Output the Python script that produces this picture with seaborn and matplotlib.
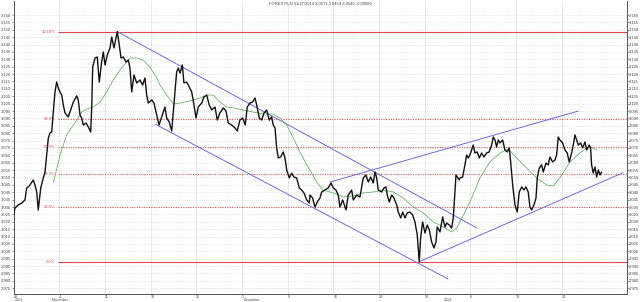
import numpy as np
import pandas as pd
import matplotlib
matplotlib.use("Agg")
import matplotlib.pyplot as plt
import seaborn as sns
from matplotlib.transforms import blended_transform_factory

# ---- data (x = trading-session index, 0 = Mon 28 Oct 2013) ----
session = [0.0, 0.15, 0.51, 0.89, 1.25, 1.43, 1.61, 1.87, 2.16, 2.34, 2.53, 2.70, 2.97, 3.25, 3.44,
           3.62, 3.80, 3.98, 4.17, 4.35, 4.53, 4.72, 4.89, 5.08, 5.27, 5.44, 5.63, 5.99, 6.17, 6.54,
           6.91, 7.08, 7.27, 7.45, 7.63, 7.93, 8.18, 8.44, 8.55, 8.66, 8.91, 9.16, 9.38, 9.64, 9.82,
           10.01, 10.26, 10.55, 10.74, 10.99, 11.21, 11.35, 11.57, 11.76, 12.01, 12.30, 12.56, 12.74,
           12.93, 13.18, 13.48, 13.84, 14.13, 14.38, 14.57, 14.75, 15.12, 15.37, 15.67, 15.92,
           16.03, 16.57, 16.76, 17.04, 17.31, 17.48, 17.67, 17.85, 18.03, 18.22, 18.47, 18.65, 18.95,
           19.23, 19.50, 19.75, 19.97, 20.22, 20.59, 20.84, 21.14, 21.42, 21.69, 22.05, 22.30, 22.59,
           22.96, 23.25, 23.50, 23.88, 24.24, 24.49, 24.78, 25.08, 25.36, 25.58, 25.88, 26.17, 26.43,
           26.61, 26.90, 27.16, 27.41, 27.71, 27.99, 28.25, 28.43, 28.62, 28.80, 28.98, 29.24, 29.52,
           29.71, 29.90, 30.18, 30.44, 30.69, 30.99, 31.28, 31.54, 31.79, 32.09, 32.37,
           32.45, 32.74, 32.99, 33.25, 33.54, 33.73, 34.09, 34.45, 34.75, 35.00, 35.29, 35.54, 35.73,
           36.03, 36.39, 36.64, 37.01, 37.19, 37.56, 37.92, 38.11, 38.28, 38.58, 38.83, 39.09, 39.38,
           39.56, 39.75, 39.92, 40.30, 40.55, 40.77, 40.91, 41.13, 41.39, 41.64, 41.94, 42.11, 42.38,
           42.60, 42.85, 43.10, 43.39, 43.69, 43.94, 44.19, 44.41, 44.56, 44.78, 45.04, 45.29, 45.51,
           45.77, 46.02, 46.24, 46.38, 46.68, 46.97, 47.23, 47.41, 47.70, 47.96, 48.13, 48.32, 48.43,
           48.57, 48.79,
           48.87, 49.16, 49.41, 49.60, 49.78, 50.04, 50.32, 50.51, 50.76, 50.98, 51.24, 51.49, 51.79,
           52.07, 52.34, 52.51, 52.70, 52.88, 53.06, 53.25, 53.54, 53.79, 54.05, 54.26, 54.42, 54.64,
           54.89, 55.14, 55.36, 55.62, 55.87, 56.09, 56.34, 56.53, 56.72, 56.97, 57.19, 57.33, 57.55,
           57.81, 57.99, 58.28, 58.53, 58.72, 59.01, 59.26, 59.45, 59.63, 59.81, 60.11, 60.36, 60.61,
           60.83, 61.09, 61.27, 61.46, 61.64, 61.82, 62.08, 62.30, 62.55, 62.74, 63.02, 63.17, 63.28,
           63.46, 63.65, 63.83, 64.01, 64.20, 64.38]
close = [3.0246, 3.0293, 3.0314, 3.0327, 3.0348, 3.0429, 3.0436, 3.0456, 3.0483, 3.0449, 3.0402, 3.0280,
         3.0429, 3.0497, 3.0537, 3.0652, 3.0767, 3.0801, 3.0808, 3.0943, 3.1079, 3.1146, 3.1106, 3.1079,
         3.1058, 3.0991, 3.0937, 3.0910, 3.0943, 3.1011, 3.1052, 3.1025, 3.0923, 3.0903, 3.0855, 3.0869,
         3.0842, 3.0808, 3.0971, 3.1248, 3.1309, 3.1316, 3.1146, 3.1282, 3.1350, 3.1262, 3.1329, 3.1377,
         3.1451, 3.1377, 3.1444, 3.1488, 3.1397, 3.1309, 3.1316, 3.1282, 3.1295, 3.1241, 3.1079, 3.1194,
         3.1140, 3.1160, 3.1126, 3.1174, 3.1058, 3.1004, 3.1025, 3.1004, 3.0923, 3.0855,
         3.0876, 3.0977, 3.0903, 3.0876, 3.0815, 3.0943, 3.1079, 3.1214, 3.1241, 3.1207, 3.1262, 3.1140,
         3.1146, 3.1113, 3.1079, 3.0991, 3.0903, 3.0977, 3.1004, 3.1045, 3.1058, 3.0991, 3.0957, 3.0977,
         3.0889, 3.0937, 3.0971, 3.0950, 3.0869, 3.0855, 3.0835, 3.0815, 3.0889, 3.0903, 3.0855, 3.0977,
         3.1004, 3.1011, 3.1038, 3.0991, 3.0903, 3.0889, 3.0937, 3.0957, 3.0889, 3.0910, 3.0855, 3.0835,
         3.0700, 3.0632, 3.0639, 3.0673, 3.0632, 3.0551, 3.0497, 3.0530, 3.0503, 3.0497, 3.0429, 3.0415,
         3.0395, 3.0348, 3.0327,
         3.0381, 3.0361, 3.0300, 3.0334, 3.0361, 3.0402, 3.0415, 3.0429, 3.0463, 3.0429, 3.0415, 3.0381,
         3.0300, 3.0348, 3.0280, 3.0381, 3.0415, 3.0348, 3.0381, 3.0368, 3.0436, 3.0497, 3.0517, 3.0469,
         3.0503, 3.0463, 3.0537, 3.0497, 3.0415, 3.0402, 3.0429, 3.0436, 3.0381, 3.0334, 3.0381, 3.0361,
         3.0314, 3.0266, 3.0226, 3.0266, 3.0226, 3.0260, 3.0266, 3.0246, 3.0199, 3.0111, 2.9930, 3.0090,
         3.0199, 3.0124, 3.0178, 3.0145, 3.0063, 3.0023, 3.0063, 3.0165, 3.0131, 3.0233, 3.0165, 3.0192,
         3.0178, 3.0158, 3.0226, 3.0402, 3.0517, 3.0503, 3.0483,
         3.0497, 3.0503, 3.0585, 3.0652, 3.0632, 3.0666, 3.0720, 3.0666, 3.0673, 3.0632, 3.0666, 3.0639,
         3.0666, 3.0673, 3.0720, 3.0774, 3.0754, 3.0706, 3.0754, 3.0734, 3.0754, 3.0686, 3.0673, 3.0700,
         3.0605, 3.0449, 3.0314, 3.0266, 3.0402, 3.0436, 3.0415, 3.0436, 3.0402, 3.0300, 3.0280, 3.0314,
         3.0361, 3.0497, 3.0564, 3.0585, 3.0537, 3.0598, 3.0585, 3.0639, 3.0605, 3.0618, 3.0652, 3.0774,
         3.0754, 3.0734, 3.0686, 3.0666, 3.0605, 3.0666, 3.0720, 3.0788, 3.0754, 3.0720, 3.0734, 3.0700,
         3.0740, 3.0686, 3.0720, 3.0700, 3.0585, 3.0530, 3.0571, 3.0503, 3.0551, 3.0517, 3.0537]

ma_session = [4.35, 5.08, 5.81, 6.91, 7.45, 8.00, 8.72, 9.46, 10.19, 10.91, 11.65, 12.38, 12.74, 13.48,
              14.20, 14.93, 15.67, 16.03, 16.76, 17.48, 18.22, 19.31, 20.40, 21.14, 21.86, 22.59, 23.33,
              24.05, 25.14, 26.24, 27.33, 28.43, 29.16, 29.90, 30.62, 31.35, 32.09, 32.45, 33.18, 33.90,
              35.00, 36.09, 37.19, 38.28, 39.38, 40.47, 41.57, 42.66, 43.76, 44.85, 45.94, 47.04, 47.96,
              48.51, 48.87, 49.96, 51.06, 52.15, 53.25, 54.16, 55.07, 56.17, 57.26, 58.36, 59.08, 59.81,
              60.91, 62.00, 62.74, 63.28, 63.83]
ma_value = [3.0463, 3.0652, 3.0788, 3.0889, 3.0943, 3.0964, 3.0977, 3.1011, 3.1079, 3.1160, 3.1228,
            3.1282, 3.1309, 3.1309, 3.1295, 3.1248, 3.1174, 3.1126, 3.1058, 3.0998, 3.1004, 3.1018,
            3.1038, 3.1058, 3.1058, 3.1011, 3.0977, 3.0971, 3.0957, 3.0943, 3.0930, 3.0930, 3.0903,
            3.0855, 3.0767, 3.0673, 3.0585, 3.0551, 3.0469, 3.0415, 3.0395, 3.0368, 3.0375, 3.0395,
            3.0402, 3.0415, 3.0402, 3.0361, 3.0300, 3.0260, 3.0199, 3.0165, 3.0131, 3.0158, 3.0199,
            3.0334, 3.0497, 3.0605, 3.0666, 3.0693, 3.0632, 3.0564, 3.0497, 3.0449, 3.0442, 3.0497,
            3.0605, 3.0666, 3.0700, 3.0700, 3.0687]

trend_session = [[11.35, 50.73], [15.48, 47.55], [34.64, 61.82], [44.41, 66.71]]
trend_price = [[3.1488, 3.0158], [3.0862, 2.9813], [3.0469, 3.0950], [2.9930, 3.0532]]

fib_high = 3.1488
fib_low = 2.9930
fib_ratios = [1.0, 0.618, 0.5, 0.382, 0.236, 0.0]
fib_labels = ["100.0%", "61.8%", "50.0%", "38.2%", "23.6%", "0.0%"]

week_pos = [0, 5, 10, 15, 20, 25, 30, 35, 40, 45, 50, 55, 60]
week_labels = ["28", "4", "11", "18", "25", "2", "9", "16", "23", "30", "6", "13", "20"]
month_pos = [0, 4, 25, 47]
month_labels = ["2013", "November", "December", "2014"]
y_ticks = [round(2.975 + 0.005 * i, 3) for i in range(38)]

title = "FOREX PLN 01/27/2014 3.0571 3.0459 3.0540 -0.00080"

# ---- figure ----
sns.set_style("white")
plt.rcParams["font.family"] = ["Liberation Sans", "DejaVu Sans"]
FS = 3.0
FSX = 2.6
W, H = 640, 302
fig = plt.figure(figsize=(W / 100, H / 100), dpi=100)
x0, x1, ytop, ybot = 13.6, 626.5, 1.0, 294.3
ax = fig.add_axes([x0 / W, (H - ybot) / H, (x1 - x0) / W, (ybot - ytop) / H])

xmin, xmax = 0.0, 67.1
ymin, ymax = 2.9709, 3.1695
ax.set_xlim(xmin, xmax)
ax.set_ylim(ymin, ymax)

# grid
for yv in y_ticks:
    ax.axhline(yv, color="#cfcfcf", lw=0.5, ls=(0, (1, 2)), zorder=0)
for xv in week_pos:
    ax.axvline(xv, color="#dedede", lw=0.5, zorder=0)

# fibonacci levels
red = "#e0474c"
for r, lab in zip(fib_ratios, fib_labels):
    lvl = fib_low + r * (fib_high - fib_low)
    if r in (0.0, 1.0):
        ax.hlines(lvl, 4.85, xmax, color=red, lw=0.8, zorder=1)
    else:
        ax.hlines(lvl, 4.85, xmax, color="#e25a5a", lw=0.8, ls=(0, (1, 1.2)), zorder=1)
    ax.text(4.6, lvl, lab, color=red, fontsize=FS, ha="right", va="center")

# trend lines
for xs, ys in zip(trend_session, trend_price):
    ax.plot(xs, ys, color="#6c6cd6", lw=0.7, zorder=2)

# moving average & price
ma_df = pd.DataFrame({"session": ma_session, "value": ma_value})
sns.lineplot(data=ma_df, x="session", y="value", ax=ax, color="#5cae5c", lw=0.55,
             sort=False, estimator=None, zorder=3)
px_df = pd.DataFrame({"session": session, "close": close})
sns.lineplot(data=px_df, x="session", y="close", ax=ax, color="#111111", lw=1.0,
             sort=False, estimator=None, zorder=4)

ax.set_xlabel("")
ax.set_ylabel("")

# axes styling
for s in ["left", "right", "bottom"]:
    ax.spines[s].set_color("#555555")
    ax.spines[s].set_linewidth(0.7)
ax.spines["top"].set_visible(False)

ax.set_yticks(y_ticks)
ax.set_yticklabels([f"{v:.3f}" for v in y_ticks])
ax.tick_params(axis="y", which="both", left=True, right=True, labelleft=True, labelright=True,
               length=1.2, width=0.4, pad=0.6, labelsize=FS, colors="#444444")

ax.set_xticks(week_pos)
ax.set_xticklabels(week_labels)
for lab in ax.get_xticklabels():
    lab.set_ha("left")
    lab.set_x(lab.get_position()[0])
ax.tick_params(axis="x", length=0.6, width=0.5, pad=0.0, labelsize=FSX, colors="#444444")
ax.set_xticks(month_pos, minor=True)
ax.tick_params(axis="x", which="minor", length=6, width=0.5, color="#444444")

trans = blended_transform_factory(ax.transData, ax.transAxes)
for mp, ml in zip(month_pos, month_labels):
    ax.text(mp + 0.15, -0.0140, ml, transform=trans, fontsize=FSX, color="#444444",
            ha="left", va="top")

fig.text(0.5, 0.993, title, ha="center", va="top", fontsize=FS, color="#444444")

fig.savefig("out.png", dpi=100)
